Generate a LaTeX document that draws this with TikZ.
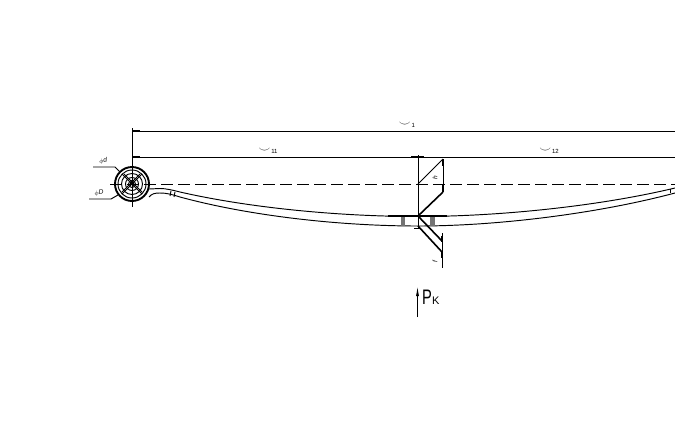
\documentclass[tikz,border=0pt]{standalone}
\usepackage{fontspec}
\setmainfont{Liberation Sans}
\usetikzlibrary{arrows.meta}
\tikzset{
  thinln/.style={line width=0.95pt,black},
  thickln/.style={line width=1.6pt,black},
  lbl/.style={inner sep=0pt,font=\fontsize{6.5}{7}\itshape},
  dimlbl/.style={inner sep=0pt,font=\fontsize{6}{8}\selectfont}
}
\newcommand{\arcmark}{\raisebox{0.5pt}{\fontsize{13}{13}\selectfont$\smile$}}
\begin{document}
\begin{tikzpicture}[x=1pt,y=-1pt]
\useasboundingbox (0,0) rectangle (675,445);
\fill[white] (0,0) rectangle (675,445);
% named reference points
\coordinate (eye) at (132,184);
% dimension lines
\draw[thinln] (132,128) -- (132,207);
\draw[thinln] (132,131) -- (675,131);
\draw[thinln] (132,157) -- (675,157);
\draw[thickln] (132,131) -- (140,131);
\draw[thickln] (132,157) -- (140,157);
% centre line
\draw[thinln,dash pattern=on 12pt off 5pt] (110,184) -- (675,184);
% eye
\draw[line width=1.9pt] (eye) circle (17);
\draw[thinln] (eye) circle (14);
\draw[thinln] (eye) circle (10.5);
\draw[thinln] (eye) circle (6.5);
\draw[thinln] (eye) circle (3.5);
\draw[thinln] (122,174) -- (142,194);
\draw[thinln] (122,194) -- (142,174);
\draw[thinln] (124,174) -- (142,192);
\draw[thinln] (122,192) -- (140,174);
% leaders
\draw[thinln] (93,167) -- (115,167) -- (120,172);
\draw[thinln] (89,199) -- (111,199) -- (118,195);
\node[lbl,rotate=8] (dsmall) at (103,161) {$\phi$d};
\node[lbl,rotate=8] (dbig) at (99,193) {$\phi$D};
% leaf
\draw[thinln] (149,189) -- (160,188.5) .. controls (166,188.5) and (172,190) .. (180,192)
  .. controls (250,208) and (340,216.5) .. (418,216.5)
  .. controls (500,216.5) and (600,206) .. (675,188);
\draw[thinln] (149,197) .. controls (152,193.5) and (155,193) .. (160,193)
  .. controls (167,193) and (172,194.5) .. (180,197)
  .. controls (250,216) and (340,226) .. (418,226)
  .. controls (500,226) and (600,213) .. (675,193);
\draw[thinln] (171,191) -- (170,196);
\draw[thinln] (175,192) -- (174,197);
\draw[thinln] (670,189) -- (670,193);
% centre clamp
\draw[thickln] (388,216) -- (447,216);
\fill[black!55] (401,216.5) rectangle (405,226);
\fill[black!55] (430,216.5) rectangle (435,226);
% vertical axis
\draw[thinln] (418,155) -- (418,228);
\draw[thickln] (411,157) -- (424,157);
\draw[thinln] (414,228) -- (421,228);
% h dimension
\draw[thinln] (418,184) -- (443,159);
\draw[thickln] (418,216) -- (443,192);
\draw[thinln] (443,159) -- (443,192);
\draw[thickln] (443,160) -- (443,166);
\draw[thickln] (443,185) -- (443,192);
\node[lbl,rotate=90] (hlab) at (435,178) {h};
% f dimension
\draw[thickln] (418,216) -- (442,241);
\draw[thickln] (418,226) -- (442,252);
\draw[thinln] (442,233) -- (442,268);
\draw[thickln] (442,236) -- (442,242);
\draw[thickln] (442,252) -- (442,258);
\node[lbl,rotate=90] (flab) at (435,262) {f};
% dimension labels
\node[dimlbl] (l1) at (407,125) {\arcmark\,1};
\node[dimlbl] (l11) at (268,151) {\arcmark\,11};
\node[dimlbl] (l12) at (549,151) {\arcmark\,12};
% load
\coordinate (pbot) at (417.5,317);
\coordinate (ptop) at (417.5,286);
\draw[thinln,-{Latex[length=10pt,width=3pt]}] (pbot) -- (ptop);
\node[inner sep=0pt,anchor=base west,xscale=.7,transform shape,font=\fontsize{21}{22}\selectfont] (pk) at (422,304.5) {P};
\node[inner sep=0pt,anchor=base west,font=\fontsize{11}{12}\selectfont] (pkk) at (432,304.5) {K};
\end{tikzpicture}
\end{document}
